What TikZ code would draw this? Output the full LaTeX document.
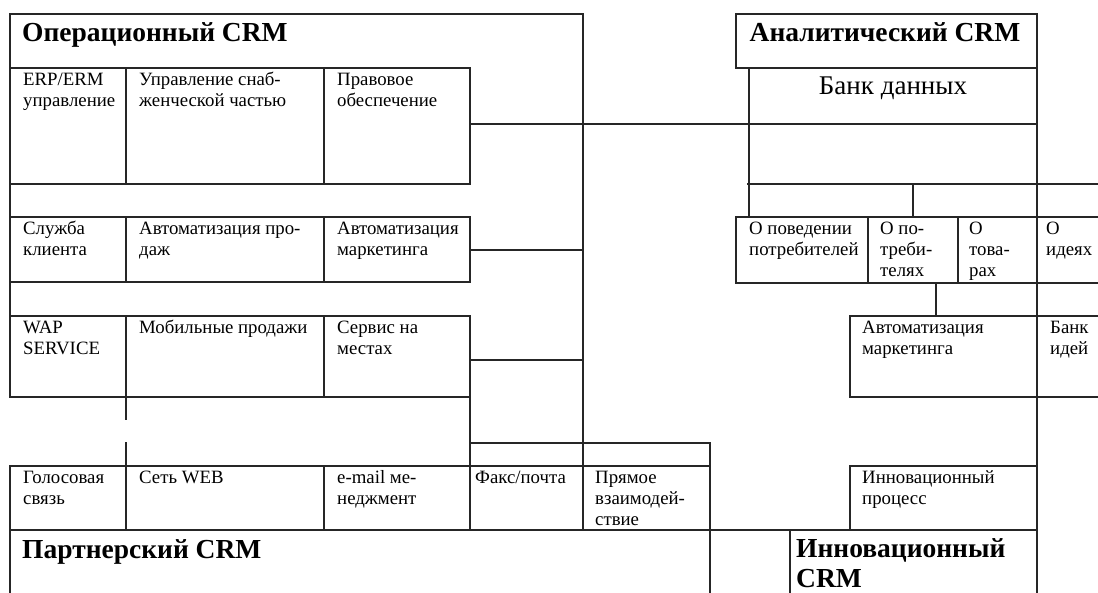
\documentclass[tikz,border=0pt]{standalone}
\usepackage{fontspec}
\setmainfont{Liberation Serif}
\newcommand{\cellt}[1]{\begin{tabular}[t]{@{}l@{}}#1\end{tabular}}
\begin{document}
\begin{tikzpicture}[x=1pt,y=-1pt,
  ln/.style={line width=1.5pt, black!85, line cap=rect},
  txt/.style={anchor=base west, inner sep=0pt, font=\fontsize{18.8}{21}\selectfont},
  hd/.style={anchor=base west, inner sep=0pt, font=\fontsize{27.5}{30}\selectfont\bfseries}]
\useasboundingbox[fill=white] (0,0) rectangle (1098,592);
% ---------- Operational CRM ----------
\draw[ln] (10,14) -- (583,14);
\draw[ln] (10,14) -- (10,397);
\draw[ln] (583,14) -- (583,530);
% row 1
\draw[ln] (10,68) -- (470,68);
\draw[ln] (10,184) -- (470,184);
\foreach \x in {126,324,470} \draw[ln] (\x,68) -- (\x,184);
\draw[ln] (470,124) -- (1037,124);
% row 2
\draw[ln] (10,217) -- (470,217);
\draw[ln] (10,282) -- (470,282);
\foreach \x in {126,324,470} \draw[ln] (\x,217) -- (\x,282);
\draw[ln] (470,250) -- (583,250);
% row 3
\draw[ln] (10,316) -- (470,316);
\draw[ln] (10,397) -- (470,397);
\foreach \x in {126,324} \draw[ln] (\x,316) -- (\x,397);
\draw[ln] (470,316) -- (470,530);
\draw[ln] (470,360) -- (583,360);
% between row 3 and bottom row
\draw[ln] (126,397) -- (126,419);
\draw[ln] (126,443) -- (126,530);
\draw[ln] (470,443) -- (710,443);
\draw[ln] (710,443) -- (710,592);
% bottom row
\draw[ln] (10,466) -- (710,466);
\draw[ln] (10,530) -- (1037,530);
\draw[ln] (10,466) -- (10,592);
\draw[ln] (324,466) -- (324,530);
% innovation CRM
\draw[ln] (790,530) -- (790,592);
% ---------- Analytical CRM ----------
\draw[ln] (736,14) -- (1037,14);
\draw[ln] (736,14) -- (736,68);
\draw[ln] (736,68) -- (1037,68);
\draw[ln] (1037,14) -- (1037,592);
\draw[ln] (749,68) -- (749,217);
\draw[ln] (748,184) -- (1098,184);
\draw[ln] (913,184) -- (913,217);
\draw[ln] (736,217) -- (1098,217);
\draw[ln] (736,283) -- (1098,283);
\foreach \x in {736,868,958} \draw[ln] (\x,217) -- (\x,283);
\draw[ln] (936,283) -- (936,316);
\draw[ln] (850,316) -- (1098,316);
\draw[ln] (850,397) -- (1098,397);
\draw[ln] (850,316) -- (850,397);
\draw[ln] (850,466) -- (1037,466);
\draw[ln] (850,466) -- (850,530);
% ---------- headings ----------
\node[hd] (hop) at (22,41) {Операционный CRM};
\node[hd, anchor=base] (han) at (885,41) {Аналитический CRM};
\node[anchor=base, inner sep=0pt, font=\fontsize{27}{30}\selectfont] (bank) at (893,94) {Банк данных};
\node[hd] (hpa) at (22,558) {Партнерский CRM};
\node[hd] (hin) at (796,557) {\cellt{Инновационный\\CRM}};
% ---------- operational cells ----------
\node[txt] (erp) at (23,85) {\cellt{ERP/ERM\\управление}};
\node[txt] (sup) at (139,85) {\cellt{Управление снаб-\\женческой частью}};
\node[txt] (law) at (337,85) {\cellt{Правовое\\обеспечение}};
\node[txt] (cli) at (23,234) {\cellt{Служба\\клиента}};
\node[txt] (sal) at (139,234) {\cellt{Автоматизация про-\\даж}};
\node[txt] (mkt) at (337,234) {\cellt{Автоматизация\\маркетинга}};
\node[txt] (wap) at (23,333) {\cellt{WAP\\SERVICE}};
\node[txt] (mob) at (139,333) {Мобильные продажи};
\node[txt] (srv) at (337,333) {\cellt{Сервис на\\местах}};
% ---------- partner cells ----------
\node[txt] (voi) at (23,483) {\cellt{Голосовая\\связь}};
\node[txt] (web) at (139,483) {Сеть WEB};
\node[txt] (eml) at (337,483) {\cellt{e-mail ме-\\неджмент}};
\node[txt] (fax) at (475,483) {Факс/почта};
\node[txt] (dir) at (595,483) {\cellt{Прямое\\взаимодей-\\ствие}};
% ---------- analytical cells ----------
\node[txt] (beh) at (749,234) {\cellt{О поведении\\потребителей}};
\node[txt] (con) at (880,234) {\cellt{О по-\\треби-\\телях}};
\node[txt] (gds) at (969,234) {\cellt{О\\това-\\рах}};
\node[txt] (ide) at (1046,234) {\cellt{О\\идеях}};
\node[txt] (amk) at (862,333) {\cellt{Автоматизация\\маркетинга}};
\node[txt] (bid) at (1050,333) {\cellt{Банк\\идей}};
\node[txt] (inp) at (862,483) {\cellt{Инновационный\\процесс}};
\end{tikzpicture}
\end{document}
